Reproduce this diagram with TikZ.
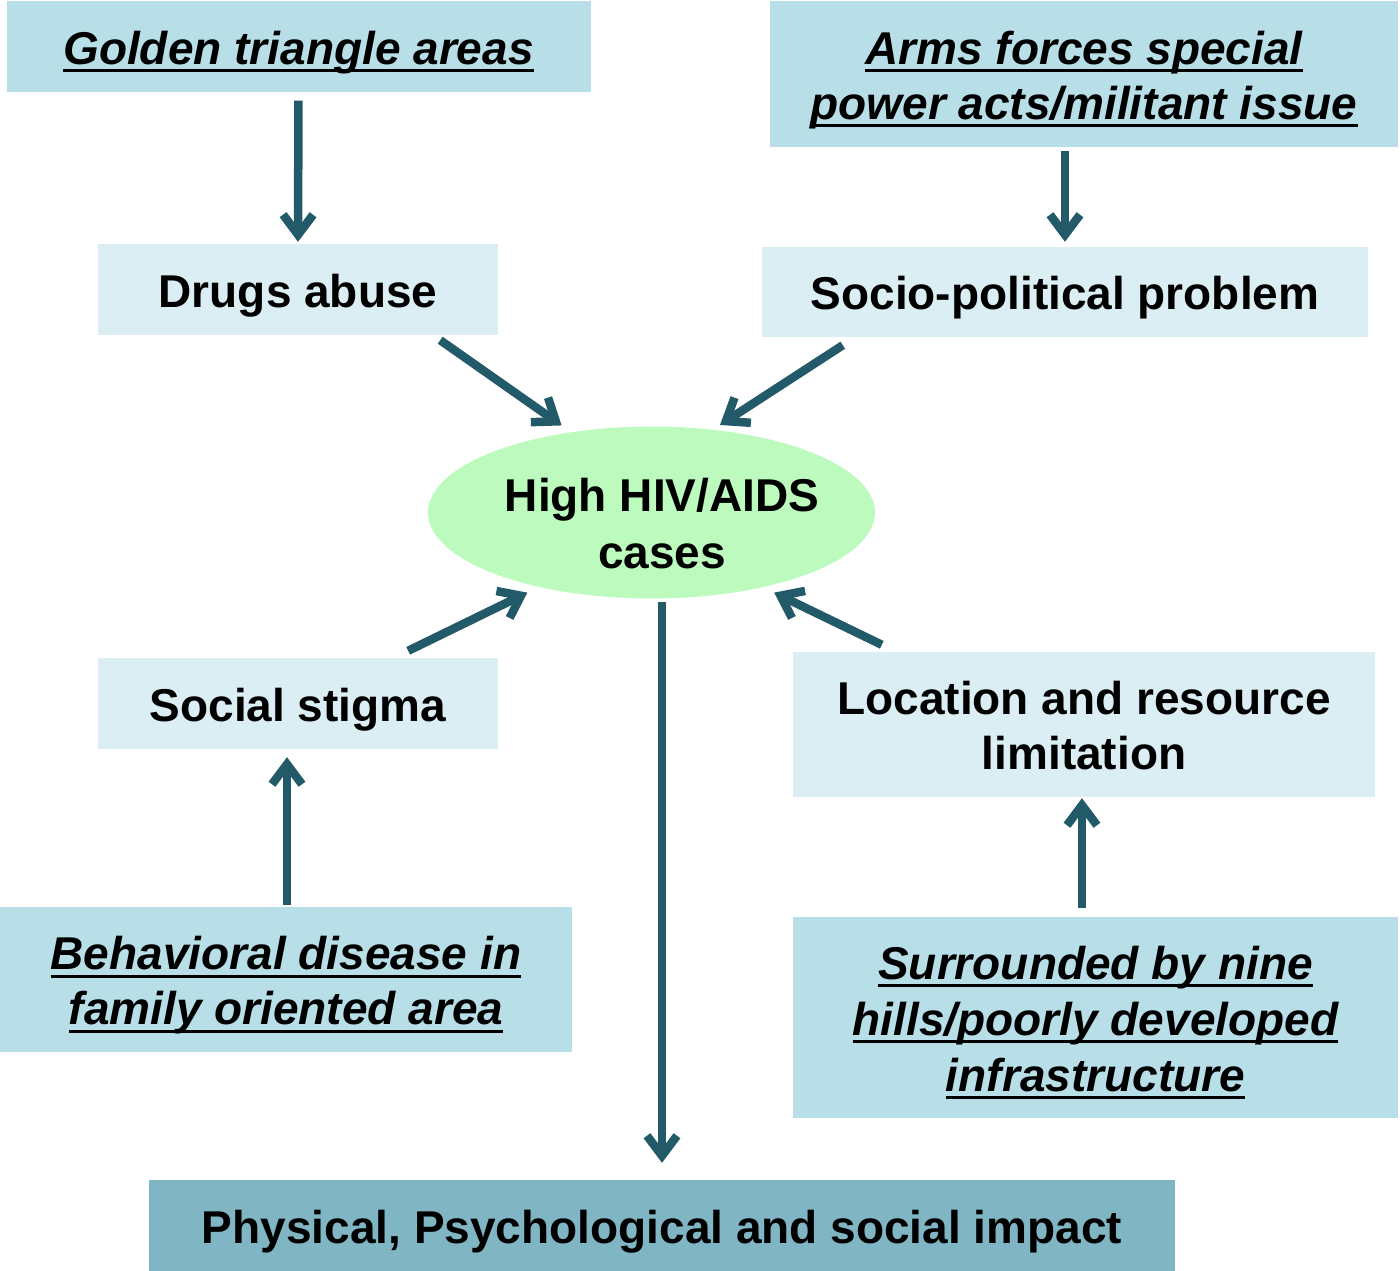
\documentclass[tikz,border=0pt]{standalone}
\usepackage{fontspec}
\setmainfont{Liberation Sans}
\usetikzlibrary{arrows.meta,shapes.geometric}
\definecolor{boxdark}{HTML}{B8DEE8}
\definecolor{boxlight}{HTML}{DBEEF4}
\definecolor{boxbottom}{HTML}{80B5C4}
\definecolor{ellfill}{HTML}{BCFBBD}
\definecolor{arrowcol}{HTML}{225A69}
\newsavebox\ulbox
\newcommand{\ul}[1]{\sbox\ulbox{#1}\leavevmode\rlap{\usebox\ulbox}\rule[-8pt]{\wd\ulbox}{3pt}}
\tikzset{
  basebox/.style={rectangle, inner sep=0pt, align=center, text height=35pt, text depth=0pt,
    font=\fontsize{46}{55}\selectfont\bfseries},
  twolines/.style={text height=90pt},
  darkbox/.style={basebox, fill=boxdark, font=\fontsize{46}{55}\selectfont\bfseries\itshape},
  lightbox/.style={basebox, fill=boxlight},
  bottombox/.style={basebox, fill=boxbottom},
  conn/.style={draw=arrowcol, line width=8.5pt,
    -{Straight Barb[length=20pt,width=30pt,line width=8.5pt]}},
}
\begin{document}
\begin{tikzpicture}[x=1pt,y=-1pt]
\useasboundingbox (0,0) rectangle (1400,1271);
% boxes
\node[darkbox, minimum width=584pt, minimum height=91pt] (golden) at (298.5,47) {\ul{Golden triangle areas}};
\node[darkbox, twolines, minimum width=628pt, minimum height=146pt] (arms) at (1084,74.5) {\ul{Arms forces special}\\\ul{power acts/militant issue}};
\node[lightbox, minimum width=400pt, minimum height=91pt] (drugs) at (298,289.5) {Drugs abuse};
\node[lightbox, minimum width=606pt, minimum height=90pt] (socio) at (1065,292) {Socio-political problem};
\node[ellipse, fill=ellfill, minimum width=447pt, minimum height=172pt, inner sep=0pt] (hiv) at (651.5,512.5) {};
\node[basebox, text height=92pt, font=\fontsize{46}{57}\selectfont\bfseries] (hivtext) at (662,522) {High HIV/AIDS\\cases};
\node[lightbox, minimum width=400pt, minimum height=91pt] (stigma) at (298,703.5) {Social stigma};
\node[lightbox, twolines, minimum width=582pt, minimum height=145pt] (loc) at (1084,724.5) {Location and resource\\limitation};
\node[darkbox, twolines, minimum width=572pt, minimum height=145pt] (behav) at (286,979.5) {\ul{Behavioral disease in}\\\ul{family oriented area}};
\node[darkbox, text height=147pt, minimum width=605pt, minimum height=201pt, font=\fontsize{46}{56}\selectfont\bfseries\itshape] (surr) at (1095.5,1017.5) {\ul{Surrounded by nine}\\\ul{hills/poorly developed}\\\ul{infrastructure}};
\node[bottombox, minimum width=1026pt, minimum height=91pt] (phys) at (662,1225.5) {Physical, Psychological and social impact};
% connectors
\draw[conn, shorten <=8pt, shorten >=2pt] (golden.south) -- (drugs.north);
\draw[conn, shorten <=3pt, shorten >=5pt] (socio.north |- arms.south) -- (socio.north);
\draw[conn] ([xshift=-58pt,yshift=-5pt]drugs.south east) -- ([shift={(-7pt,7pt)}]hiv.136);
\draw[conn] ([xshift=81pt,yshift=-8pt]socio.south west) -- ([shift={(4pt,5pt)}]hiv.52);
\draw[conn] ([xshift=-90pt,yshift=7pt]stigma.north east) -- ([shift={(-10pt,-6pt)}]hiv.213);
\draw[conn] ([xshift=89pt,yshift=7pt]loc.north west) -- ([shift={(8.5pt,-6pt)}]hiv.-33);
\draw[conn, shorten <=2pt, shorten >=8pt] (behav.north -| stigma.south) ++(-11pt,0) coordinate (bstart) -- (bstart |- stigma.south);
\draw[conn, shorten <=9pt, shorten >=1pt] (loc.south |- surr.north) ++(-2pt,0) coordinate (sstart) -- (sstart |- loc.south);
\draw[conn, shorten <=3pt, shorten >=17pt] (hiv.south -| phys.north) coordinate (hstart) -- (phys.north);
\end{tikzpicture}
\end{document}
